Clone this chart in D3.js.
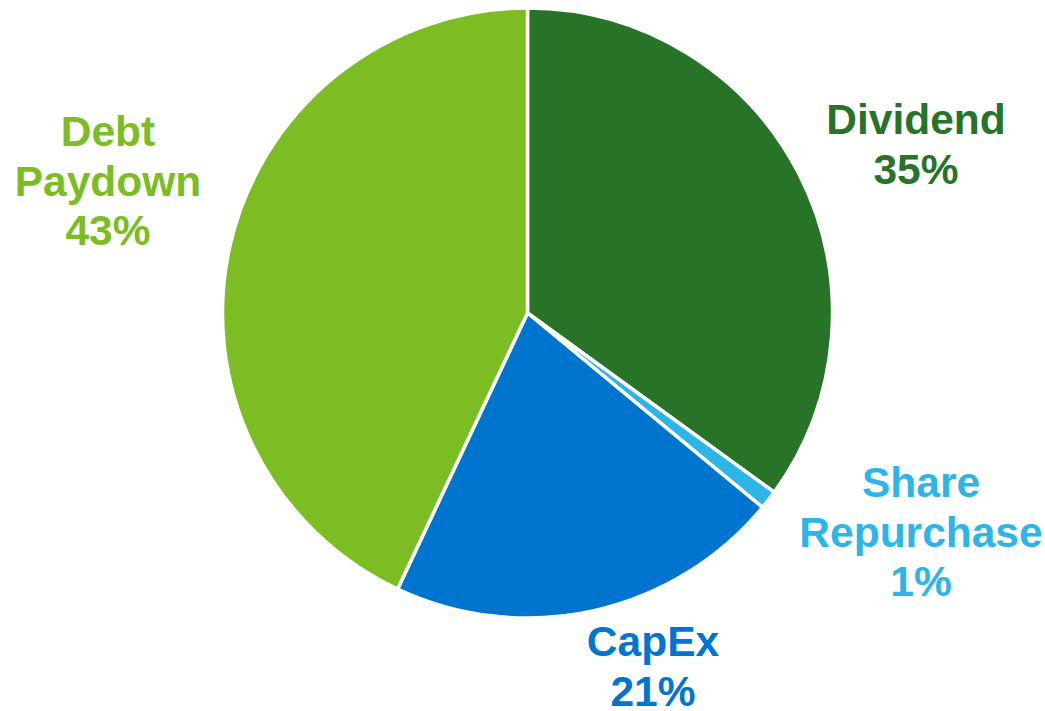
<!DOCTYPE html>
<html><head><meta charset="utf-8">
<script src="https://cdn.jsdelivr.net/npm/d3@7"></script>
<style>body{margin:0;background:#fff;}svg{display:block;}</style>
</head><body>
<svg id="chart" width="1045" height="711"></svg>
<script>
const categories = ["Dividend", "Share Repurchase", "CapEx", "Debt Paydown"];
const values = [35, 1, 21, 43];
const labelLines = [["Dividend", "35%"], ["Share", "Repurchase", "1%"], ["CapEx", "21%"], ["Debt", "Paydown", "43%"]];
const colors = ["#277328", "#2cb5e6", "#0075cf", "#7bbd22"];
const labelPos = [[916, 134], [921, 497], [653, 656], [108, 146]];

const svg = d3.select("#chart");
const cx = 527.5, cy = 313, r = 305;
const pie = d3.pie().sort(null).value(d => d)(values);
const arc = d3.arc().innerRadius(0).outerRadius(r);
const g = svg.append("g").attr("transform", `translate(${cx},${cy})`);
g.selectAll("path").data(pie).join("path")
  .attr("d", arc)
  .attr("fill", (d, i) => colors[i])
  .attr("stroke", "#fff").attr("stroke-width", 3.5).attr("stroke-linejoin", "round");

const lh = 49.5;
categories.forEach((c, i) => {
  const t = svg.append("text")
    .attr("x", labelPos[i][0]).attr("y", labelPos[i][1])
    .attr("text-anchor", "middle")
    .attr("font-family", "Liberation Sans, Arial, sans-serif")
    .attr("font-weight", "bold").attr("font-size", 42.5)
    .attr("fill", colors[i]);
  labelLines[i].forEach((l, j) => {
    t.append("tspan").attr("x", labelPos[i][0]).attr("y", labelPos[i][1] + j * lh).text(l);
  });
});
</script>
</body></html>
